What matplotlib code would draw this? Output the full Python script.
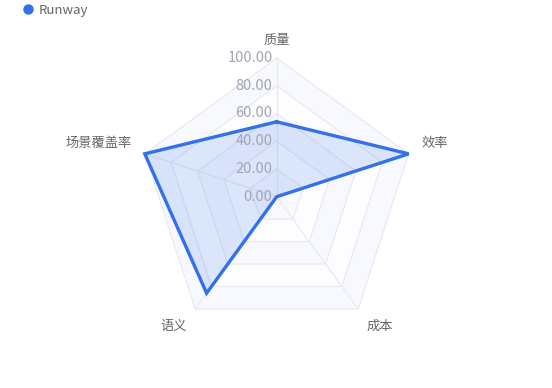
import numpy as np
import matplotlib
matplotlib.use("Agg")
import matplotlib.pyplot as plt
from matplotlib.lines import Line2D

plt.rcParams['font.family'] = ['Noto Sans CJK SC', 'DejaVu Sans']

# data
indicators = ['质量', '效率', '成本', '语义', '场景覆盖率']
runway = [54, 100, 0, 86, 100]
ring_levels = [0, 20, 40, 60, 80, 100]
tick_labels = ['0.00', '20.00', '40.00', '60.00', '80.00', '100.00']

# angles clockwise from the top
n = len(indicators)
ang = np.arange(n) * 2 * np.pi / n
sx, sy = np.sin(ang), np.cos(ang)

fig = plt.figure(figsize=(5.52, 3.88), dpi=100)
ax = fig.add_axes([0, 0, 1, 1])
scale = 1.387  # px per unit
ax.set_xlim(-276.7 / scale, (552 - 276.7) / scale)
ax.set_ylim(-(388 - 196.7) / scale, 196.7 / scale)
ax.axis('off')

# split areas (bands between rings)
band_cols = ['#fdfdff', '#f8f9fe']
for i in range(len(ring_levels) - 1, 0, -1):
    r = ring_levels[i]
    ax.fill(r * sx, r * sy, color=band_cols[i % 2], lw=0, zorder=1)
for r in ring_levels[1:]:
    ax.plot(np.append(r * sx, r * sx[0]), np.append(r * sy, r * sy[0]),
            color='#e6e8ef', lw=0.8, zorder=2)
for k in range(n):
    ax.plot([0, 100 * sx[k]], [0, 100 * sy[k]], color='#e6e8ef', lw=0.8, zorder=2)

# series
v = np.array(runway, dtype=float)
xs, ys = v * sx, v * sy
ax.fill(xs, ys, color='#3370eb', alpha=0.16, lw=0, zorder=3)
ax.plot(np.append(xs, xs[0]), np.append(ys, ys[0]), color='#3370eb', lw=2.4,
        solid_joinstyle='miter', zorder=4)

# tick labels along the top axis
for r, t in zip(ring_levels, tick_labels):
    ax.text(-3.0, r, t, ha='right', va='center', fontsize=10.5, color='#a0a5b2', zorder=5)

# indicator names
name_r = 110
aligns = [('center', 'bottom'), ('left', 'bottom'), ('left', 'top'),
          ('right', 'top'), ('right', 'bottom')]
for k, name in enumerate(indicators):
    ha, va = aligns[k]
    rr = 108 if k == 0 else name_r
    ax.text(rr * sx[k], rr * sy[k], name, ha=ha, va=va, fontsize=9.5, color='#666666')

# legend
h = Line2D([], [], marker='o', color='#3370eb', lw=0, markersize=6.5)
fig.legend([h], ['Runway'], loc='upper left', bbox_to_anchor=(0.02, 1.02),
           frameon=False, fontsize=9.5, handlelength=0.7, handletextpad=0.5,
           labelcolor='#666666')

fig.savefig('out.png', dpi=100)
